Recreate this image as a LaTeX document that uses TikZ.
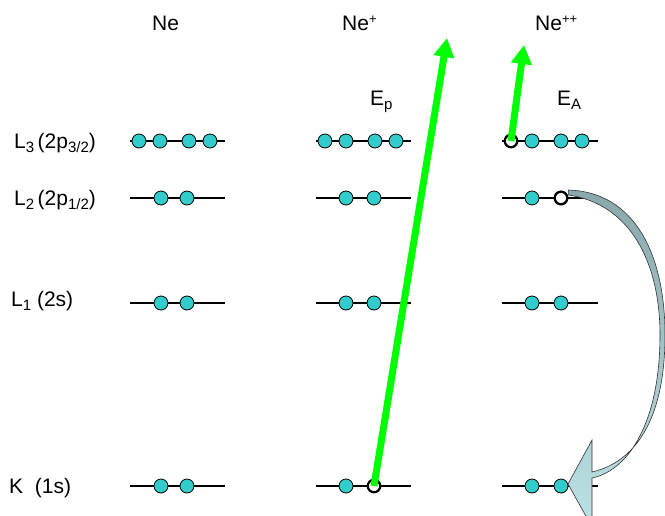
\documentclass[tikz,border=0pt]{standalone}
\usepackage{fontspec}
\setmainfont{Liberation Sans}
\usetikzlibrary{arrows.meta}
\definecolor{elec}{HTML}{33CCCC}
\definecolor{bandtop}{HTML}{8AA8AC}
\definecolor{bandbot}{HTML}{BCE2E6}
\newcommand{\sbs}[1]{\raisebox{-4pt}{\fontsize{15}{15}\selectfont #1}}
\newcommand{\sps}[1]{\raisebox{7pt}{\fontsize{13}{13}\selectfont #1}}
\begin{document}
\begin{tikzpicture}[x=1pt,y=-1pt,
  lvl/.style={line width=2.6pt},
  elecnode/.style={circle,draw=black,line width=0.8pt,fill=elec,minimum size=14pt,inner sep=0pt},
  holenode/.style={circle,draw=black,line width=2.2pt,fill=white,minimum size=12.5pt,inner sep=0pt},
  lab/.style={font=\fontsize{21}{24}\selectfont,inner sep=0pt},
  garrow/.style={draw={rgb,255:red,0;green,255;blue,0},line width=7pt,-{Triangle[width=20pt,length=19pt]}},
]
\useasboundingbox (0,0) rectangle (665,515);
\clip (0,0) rectangle (665,515);
% level lines
\foreach \y in {141,198,303,486}{
  \draw[lvl] (130,\y) -- (225,\y);
  \draw[lvl] (316,\y) -- (411,\y);
  \draw[lvl] (502,\y) -- (598,\y);
}
% column titles
\node[lab,anchor=base west] (tNe) at (152,30) {Ne};
\node[lab,anchor=base west] (tNep) at (342,30) {Ne\sps{+}};
\node[lab,anchor=base west] (tNepp) at (535,30) {Ne\sps{++}};
\node[lab,anchor=base west] (tEp) at (370,105) {E\sbs{p}};
\node[lab,anchor=base west] (tEA) at (557,105) {E\sbs{A}};
% level labels
\node[lab,anchor=base west] (l3) at (14,148) {L\sbs{3}\,(2p\sbs{3/2})};
\node[lab,anchor=base west] (l2) at (14,205) {L\sbs{2}\,(2p\sbs{1/2})};
\node[lab,anchor=base west] (l1) at (11,306) {L\sbs{1} (2s)};
\node[lab,anchor=base west] (lk) at (9,493) {K\ \ (1s)};
% Ne
\foreach \x/\n in {139/a,160/b,189/c,210/d} \node[elecnode] (ne3\n) at (\x,141) {};
\foreach \x/\n in {161/a,187/b}{
  \node[elecnode] (ne2\n) at (\x,198) {};
  \node[elecnode] (ne1\n) at (\x,303) {};
  \node[elecnode] (nek\n) at (\x,486) {};
}
% Ne+
\foreach \x/\n in {325/a,346/b,375/c,396/d} \node[elecnode] (np3\n) at (\x,141) {};
\node[elecnode] (np2a) at (346,198) {};
\node[elecnode] (np2b) at (374,198) {};
\node[elecnode] (np1a) at (346,303) {};
\node[elecnode] (np1b) at (374,303) {};
\node[elecnode] (npka) at (346,486) {};
\node[holenode] (npkh) at (374,486) {};
% Ne++
\node[holenode] (npp3h) at (511,141) {};
\foreach \x/\n in {532/a,561/b,582/c} \node[elecnode] (npp3\n) at (\x,141) {};
\node[elecnode] (npp2a) at (532,198) {};
\node[holenode] (npp2h) at (561,198) {};
\node[elecnode] (npp1a) at (532,303) {};
\node[elecnode] (npp1b) at (561,303) {};
\node[elecnode] (nppka) at (532,486) {};
\node[elecnode] (nppkb) at (561,486) {};
% green arrows
\coordinate (tipP) at (447,38);
\coordinate (tipA) at (524,45);
\draw[garrow] (npkh.center) -- (tipP);
\draw[garrow] (npp3h.center) -- (tipA);
% curved Auger arrow
\path[draw=black!80,line width=0.6pt,top color=bandtop,bottom color=bandbot]
  (npp2h.east) ++(0,-8)
  .. controls (635,192) and (665,255) .. (665,335)
  .. controls (665,420) and (635,462) .. (592,472)
  -- (592,440) -- (568,484) -- (592,527) -- (592,478)
  .. controls (630,470) and (660,420) .. (660,335)
  .. controls (660,262) and (630,204) .. ([yshift=3pt]npp2h.east)
  -- cycle;
\node[holenode] at (npp2h) {};
\end{tikzpicture}
\end{document}
